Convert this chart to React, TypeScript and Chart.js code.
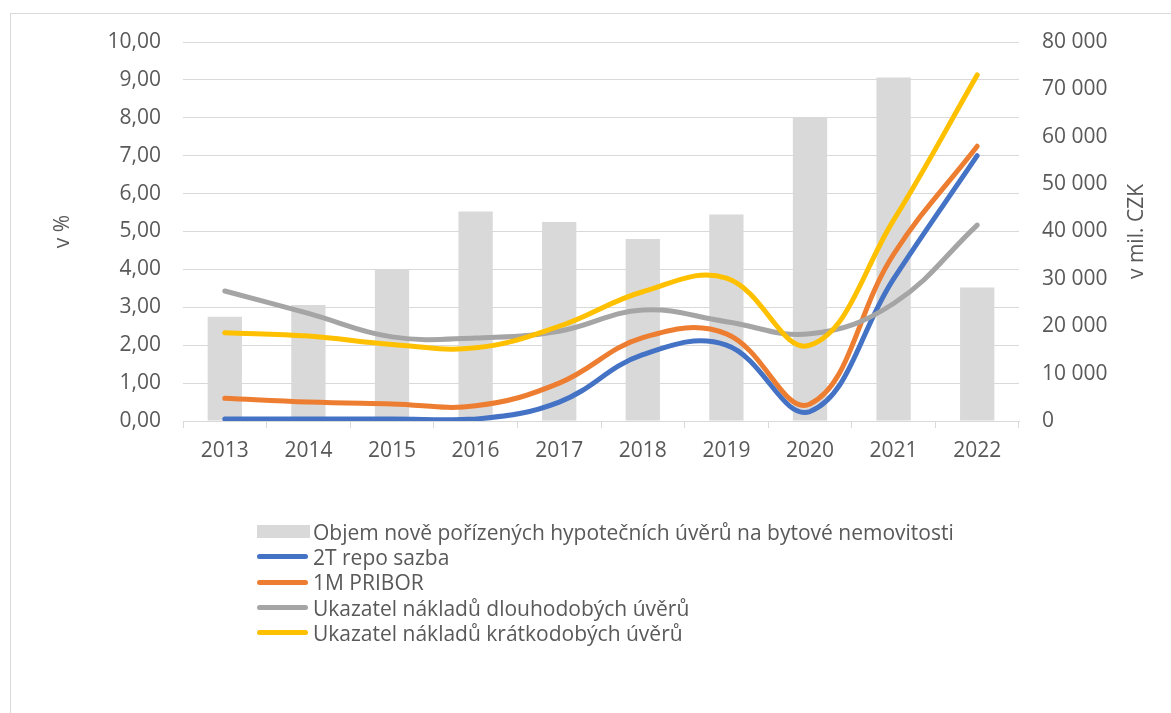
import React, { useEffect, useRef } from "react";
import { Chart, registerables } from "chart.js";

Chart.register(...registerables);

const years = ["2013", "2014", "2015", "2016", "2017", "2018", "2019", "2020", "2021", "2022"];
const objemUveru = [22000, 24500, 32000, 44200, 42000, 38400, 43600, 64000, 72500, 28200];
const repo2T = [0.05, 0.05, 0.05, 0.05, 0.5, 1.75, 2.0, 0.25, 3.75, 7.0];
const pribor1M = [0.6, 0.5, 0.45, 0.4, 1.0, 2.2, 2.3, 0.45, 4.4, 7.25];
const dlouhodobe = [3.43, 2.84, 2.22, 2.19, 2.37, 2.93, 2.62, 2.3, 3.1, 5.17];
const kratkodobe = [2.33, 2.24, 2.02, 1.93, 2.5, 3.41, 3.77, 2.0, 5.3, 9.13];

const seriesLabels = [
  "Objem nově pořízených hypotečních úvěrů na bytové nemovitosti",
  "2T repo sazba",
  "1M PRIBOR",
  "Ukazatel nákladů dlouhodobých úvěrů",
  "Ukazatel nákladů krátkodobých úvěrů",
];
const seriesColors = ["#D9D9D9", "#4472C4", "#ED7D31", "#A5A5A5", "#FFC000"];

const FONT = "'Open Sans', Lato, sans-serif";
const FS = 21;
const TEXT = "#595959";
const GRID = "#D9D9D9";

export default function App() {
  const ref = useRef<HTMLCanvasElement>(null);

  useEffect(() => {
    if (!ref.current) return;
    const lineDs = (i: number, data: number[], order: number) => ({
      type: "line" as const,
      label: seriesLabels[i],
      data,
      yAxisID: "y",
      borderColor: seriesColors[i],
      backgroundColor: seriesColors[i],
      borderWidth: 5,
      borderCapStyle: "round" as const,
      borderJoinStyle: "round" as const,
      pointRadius: 0,
      tension: 0.4,
      fill: false,
      order,
    });
    const rightTitle = {
      id: "rightTitle",
      afterDraw(chart: any) {
        const c = chart.ctx;
        const area = chart.chartArea;
        c.save();
        c.translate(1137, (area.top + area.bottom) / 2);
        c.rotate(-Math.PI / 2);
        c.font = `${FS}px ${FONT}`;
        c.fillStyle = TEXT;
        c.textAlign = "center";
        c.textBaseline = "middle";
        c.fillText("v mil. CZK", 0, 0);
        c.restore();
      },
    };
    const chart = new Chart(ref.current, {
      data: {
        labels: years,
        datasets: [
          {
            type: "bar",
            label: seriesLabels[0],
            data: objemUveru,
            yAxisID: "y1",
            backgroundColor: seriesColors[0],
            categoryPercentage: 1,
            barPercentage: 0.41,
            order: 5,
          },
          lineDs(1, repo2T, 4),
          lineDs(2, pribor1M, 3),
          lineDs(3, dlouhodobe, 2),
          lineDs(4, kratkodobe, 1),
        ],
      } as any,
      options: {
        responsive: false,
        animation: false,
        devicePixelRatio: 1,
        layout: { padding: { top: 42, bottom: 232, left: 0, right: 0 } },
        plugins: { legend: { display: false }, tooltip: { enabled: false } },
        scales: {
          x: {
            offset: true,
            grid: { drawOnChartArea: false, drawTicks: true, tickLength: 7, color: GRID },
            border: { color: GRID, width: 1 },
            ticks: { color: TEXT, font: { family: FONT, size: FS }, padding: 10 },
            afterFit: (s: any) => { s.height = 60; },
          },
          y: {
            position: "left",
            min: 0,
            max: 10,
            grid: { color: GRID, drawTicks: false },
            border: { display: false },
            ticks: {
              stepSize: 1,
              color: TEXT,
              font: { family: FONT, size: FS },
              padding: 22,
              callback: (v: any) => Number(v).toFixed(2).replace(".", ","),
            },
            title: {
              display: true,
              text: "v %",
              color: TEXT,
              font: { family: FONT, size: FS },
              padding: { top: 50, bottom: 0 },
            },
            afterFit: (s: any) => { s.width = 183; },
          },
          y1: {
            position: "right",
            min: 0,
            max: 80000,
            grid: { drawOnChartArea: false, drawTicks: false },
            border: { display: false },
            ticks: {
              stepSize: 10000,
              color: TEXT,
              font: { family: FONT, size: FS },
              padding: 23,
              callback: (v: any) => String(v).replace(/\B(?=(\d{3})+(?!\d))/g, " "),
            },
            afterFit: (s: any) => { s.width = 152; },
          },
        },
      } as any,
      plugins: [rightTitle],
    });
    return () => chart.destroy();
  }, []);

  return (
    <div style={{ position: "absolute", left: 0, top: 0, width: 1171, height: 713, overflow: "hidden", background: "#fff" }}>
      <div
        style={{
          position: "absolute",
          left: 10,
          top: 13,
          width: 1200,
          height: 760,
          borderLeft: `1px solid ${GRID}`,
          borderTop: `1px solid ${GRID}`,
        }}
      />
      <canvas ref={ref} width={1171} height={713} style={{ position: "absolute", left: 0, top: 0, width: 1171, height: 713 }} />
      <div style={{ position: "absolute", left: 257, top: 519, fontFamily: FONT, fontSize: FS, color: TEXT }}>
        {seriesLabels.map((label, i) => (
          <div key={label} style={{ display: "flex", alignItems: "center", height: 25.3, whiteSpace: "nowrap" }}>
            {i === 0 ? (
              <span style={{ display: "inline-block", width: 53, height: 13, background: seriesColors[i], marginRight: 3 }} />
            ) : (
              <span style={{ display: "inline-block", width: 51, height: 5, borderRadius: 3, background: seriesColors[i], marginRight: 5 }} />
            )}
            <span>{label}</span>
          </div>
        ))}
      </div>
    </div>
  );
}
